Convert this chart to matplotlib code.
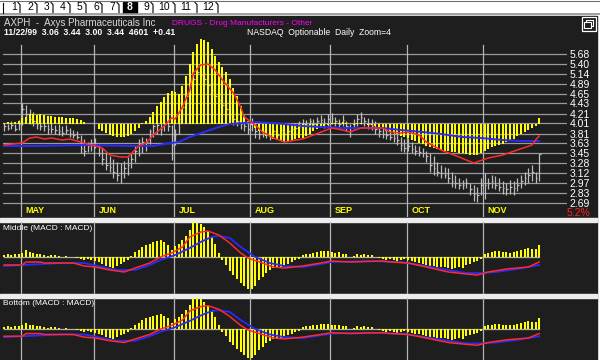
import numpy as np
import matplotlib.pyplot as plt
from matplotlib.patches import Rectangle
from matplotlib.ticker import NullLocator

plt.rcParams['font.family'] = ['Liberation Sans', 'DejaVu Sans']

# ---- data (daily bars, late Apr .. 11/22/99) ----
months = ['MAY', 'JUN', 'JUL', 'AUG', 'SEP', 'OCT', 'NOV']
month_start = [5, 25, 47, 68, 90, 111, 132]
price_ticks = [5.68, 5.40, 5.14, 4.89, 4.65, 4.43, 4.21, 4.01, 3.81, 3.63,
               3.45, 3.28, 3.12, 2.97, 2.83, 2.69]

high = [4.02, 4.00, 4.05, 4.00, 4.08, 4.45, 4.40, 4.30, 4.25, 4.15,
        4.10, 4.05, 4.00, 4.02, 3.98, 4.00, 3.95, 3.98, 3.92, 3.88,
        3.85, 3.78, 3.70, 3.65, 3.70, 3.72, 3.62, 3.55, 3.45, 3.40,
        3.35, 3.30, 3.28, 3.32, 3.38, 3.45, 3.60, 3.70, 3.75, 3.72,
        3.90, 4.00, 4.05, 4.02, 4.08, 4.10, 3.98, 3.90, 4.20, 4.45,
        4.70, 4.95, 5.20, 5.40, 5.35, 5.25, 5.10, 5.00, 4.90, 4.75,
        4.60, 4.50, 4.40, 4.30, 4.25, 4.15, 4.10, 4.05, 4.12, 4.05,
        3.95, 3.92, 3.90, 3.85, 3.92, 3.88, 3.95, 3.90, 3.95, 3.98,
        4.00, 4.05, 4.10, 4.08, 4.12, 4.10, 4.15, 4.18, 4.12, 4.20,
        4.22, 4.15, 4.10, 4.18, 4.05, 4.00, 4.10, 4.20, 4.25, 4.15,
        4.12, 4.10, 4.05, 4.00, 3.95, 3.92, 3.88, 3.85, 3.80, 3.75,
        3.70, 3.72, 3.65, 3.60, 3.58, 3.55, 3.50, 3.45, 3.40, 3.30,
        3.25, 3.22, 3.20, 3.15, 3.10, 3.05, 3.02, 3.05, 2.98, 2.95,
        2.92, 3.05, 3.12, 3.05, 3.10, 3.08, 3.05, 3.00, 2.98, 3.02,
        3.00, 3.05, 3.10, 3.15, 3.20, 3.25, 3.15, 3.44]
low = [3.86, 3.88, 3.90, 3.85, 3.88, 3.98, 4.08, 4.00, 3.95, 3.90,
       3.88, 3.85, 3.80, 3.82, 3.80, 3.78, 3.76, 3.80, 3.74, 3.72,
       3.70, 3.45, 3.40, 3.48, 3.50, 3.55, 3.40, 3.25, 3.18, 3.15,
       3.05, 3.00, 2.98, 3.05, 3.10, 3.20, 3.30, 3.40, 3.45, 3.50,
       3.62, 3.75, 3.80, 3.78, 3.85, 3.85, 3.34, 3.60, 3.80, 4.05,
       4.30, 4.50, 4.70, 4.90, 4.95, 4.85, 4.70, 4.60, 4.45, 4.35,
       4.25, 4.15, 4.05, 3.98, 3.95, 3.90, 3.85, 3.80, 3.85, 3.72,
       3.70, 3.75, 3.72, 3.68, 3.72, 3.70, 3.75, 3.70, 3.72, 3.78,
       3.80, 3.85, 3.90, 3.88, 3.90, 3.92, 3.95, 3.95, 3.92, 3.95,
       4.00, 3.95, 3.90, 3.95, 3.85, 3.75, 3.90, 3.95, 4.00, 3.95,
       3.90, 3.88, 3.80, 3.75, 3.72, 3.70, 3.68, 3.65, 3.60, 3.50,
       3.48, 3.50, 3.45, 3.42, 3.40, 3.38, 3.30, 3.15, 3.10, 3.08,
       3.05, 3.05, 2.98, 2.92, 2.90, 2.88, 2.88, 2.90, 2.80, 2.72,
       2.70, 2.80, 2.75, 2.88, 2.90, 2.88, 2.85, 2.82, 2.80, 2.82,
       2.80, 2.85, 2.90, 2.95, 2.98, 3.00, 2.98, 3.00]
close = [3.95, 3.92, 3.98, 3.90, 4.00, 4.30, 4.20, 4.10, 4.05, 4.00,
         3.95, 3.95, 3.90, 3.90, 3.88, 3.85, 3.82, 3.88, 3.80, 3.78,
         3.75, 3.55, 3.50, 3.58, 3.62, 3.60, 3.45, 3.35, 3.25, 3.22,
         3.15, 3.10, 3.12, 3.20, 3.25, 3.35, 3.50, 3.60, 3.65, 3.65,
         3.85, 3.95, 3.98, 3.90, 4.00, 3.95, 3.60, 3.80, 4.10, 4.35,
         4.60, 4.85, 5.00, 5.20, 5.10, 5.00, 4.85, 4.75, 4.60, 4.50,
         4.40, 4.30, 4.20, 4.10, 4.05, 4.00, 3.95, 3.90, 4.00, 3.85,
         3.80, 3.85, 3.80, 3.75, 3.85, 3.78, 3.88, 3.80, 3.85, 3.90,
         3.92, 3.95, 4.00, 3.98, 4.05, 4.00, 4.05, 4.08, 4.02, 4.10,
         4.12, 4.05, 4.00, 4.08, 3.95, 3.85, 4.00, 4.10, 4.15, 4.05,
         4.00, 3.95, 3.90, 3.85, 3.80, 3.78, 3.75, 3.72, 3.68, 3.60,
         3.55, 3.58, 3.52, 3.50, 3.48, 3.45, 3.40, 3.25, 3.20, 3.15,
         3.12, 3.10, 3.05, 3.00, 2.98, 2.95, 2.95, 2.98, 2.88, 2.82,
         2.80, 2.95, 2.95, 2.98, 3.00, 2.95, 2.92, 2.90, 2.88, 2.92,
         2.90, 2.95, 3.00, 3.05, 3.10, 3.15, 3.05, 3.44]

# price-window MACD overlay (own scale, zero at the 4.01 line)
top_hist = [1, 2, 1, 2, 3, 6, 7, 10, 10, 9, 10, 9,
            8, 8, 7, 7, 7, 6, 6, 6, 5, 4, 2, 0, 0, 0,
            -5, -7, -9, -11, -12, -13, -13, -13, -12, -10, -7, -4,
            1, 3, 7, 12, 18, 22, 27, 31, 33, 32, 30, 38, 48,
            60, 72, 80, 85, 84, 82, 75, 68, 62, 57, 52, 45, 36, 28, 18, 9, 3,
            -1, -4, -7, -9, -12, -13, -15, -16, -17, -18, -17, -16, -15, -14,
            -14, -12, -10, -7, -5, -4, -2, -1,
            1, 1, 1, 2, 1, 0, -1, 1, 1, 0, -1, -1, -2, -3,
            -5, -7, -8, -9, -10, -12, -13, -14, -16, -17, -19, -20, -22, -23,
            -24, -25, -26, -27, -27, -28, -28, -29, -29, -30, -31, -31, -31,
            -29, -27, -25, -23, -22, -21, -20, -18, -17, -15, -12, -10, -8,
            -6, -4, -2, 6]
top_red_x = [0, 5, 7, 9, 11, 13, 16, 18, 21, 24, 27, 29, 32, 34, 37, 39, 41,
             43, 44, 46, 47, 49, 51, 52, 54, 56, 58, 60, 63, 65, 66, 69, 71,
             74, 77, 82, 85, 90, 93, 95, 98, 104, 106, 109, 111, 114, 116,
             120, 125, 129, 133, 137, 141, 145, 146, 147]
top_red = [-21, -19, -14, -13, -15, -14, -16, -15, -18, -21, -24, -31, -33,
           -33, -22, -19, -11, -5, -2, 6, 5, 17, 34, 51, 59, 60, 54, 44, 31,
           17, 7, -1, -8, -14, -18, -15, -11, -4, -6, -8, -4, -4, -8, -9, -8,
           -11, -18, -26, -33, -39, -34, -31, -26, -21, -16, -12]
top_blue_x = [0, 10, 22, 36, 41, 44, 48, 51, 55, 59, 62, 66, 69, 73, 77, 82,
              87, 93, 104, 109, 115, 120, 126, 131, 137, 142, 147]
top_blue = [-22, -22, -21, -22, -22, -20, -18, -13, -8, -3, 0, 1, 2, 1, 0,
            -2, -3, -4, -4, -6, -8, -10, -13, -14, -16, -17, -17]

# MACD panels (middle and bottom show the same study)
macd_hist = [2, 3, 2, 3, 3,
             4, 7, 5, 4, 3, 3, 2, 1, 2, 2, 1, 0, 1, 0, 0,
             -1, -2, -3, -2, -3, -4, -5, -7, -9, -10, -11, -9, -7, -5, -3,
             1, 5, 7, 10, 12, 13, 15, 16, 17, 15, 12, 7,
             11, 13, 17, 21, 27, 35, 34, 33, 30, 26, 20, 13, 4,
             -3, -8, -14, -18, -22, -26, -29, -32, -32, -29, -23, -20, -16,
             -13, -11, -10, -10, -8, -7, -5, -3, -2,
             2, 3, 3, 4, 5, 6, 6, 6, 5, 4, 5, 3, 3, 0, 1, 3, 2, 3, 2, 2,
             0, -1, -2, -3, -2, -3, -4, -3, -2, -3, -4, -5, -6, -7, -8, -9,
             -9, -10, -10, -10, -11, -12, -11, -10, -11, -8, -7, -5, -4, -2,
             3, 4, 5, 6, 6, 5, 5, 4, 5, 6, 7, 8, 9, 8, 8, 12]
macd_red_x = [0, 5, 6, 10, 11, 19, 22, 25, 29, 33, 36, 40, 43, 46, 49, 51,
              54, 56, 59, 62, 65, 67, 71, 74, 77, 82, 87, 90, 95, 104, 106,
              111, 116, 122, 127, 130, 133, 138, 144, 147]
macd_red = [-8, -8, -5, -5, -6, -6, -9, -10, -13, -15, -11, -6, 0, 4, 10, 20,
            25, 26, 22, 14, 4, -1, -6, -10, -11, -9, -6, -4, -5, -4, -5, -6,
            -10, -15, -17, -18, -15, -12, -10, -5]
macd_blue_x = [0, 5, 16, 22, 27, 31, 36, 40, 43, 47, 51, 54, 57, 59, 62, 65,
               69, 73, 77, 82, 87, 90, 100, 109, 116, 122, 127, 131, 135,
               141, 147]
macd_blue = [-9, -8, -6, -6, -10, -13, -13, -8, -3, 2, 9, 15, 20, 21, 19, 10,
             0, -6, -9, -10, -7, -5, -4, -5, -9, -13, -16, -16, -15, -12, -8]

# ---- layout helpers (pixel boxes) ----
W, H = 600, 360
BG = '#1e1e1e'
GRID = '#9a9a9a'
VLINE = '#b4b4b4'
YEL = '#ffff00'
RED = '#ff2a2a'
BLUE = '#2a2aff'
XLIM = (-0.3, -0.3 + 564 / 3.64)


def box(x0, y0, x1, y1):
    return [x0 / W, 1 - y1 / H, (x1 - x0) / W, (y1 - y0) / H]


def ftext(x, y, s, **kw):
    kw.setdefault('va', 'center')
    fig.text(x / W, 1 - y / H, s, **kw)


fig = plt.figure(figsize=(6, 3.6), dpi=100, facecolor='white')

# window chrome
bg = fig.add_axes([0, 0, 1, 1], zorder=-10)
bg.set_xlim(0, W)
bg.set_ylim(H, 0)
bg.axis('off')
bg.add_patch(Rectangle((0, 16), 596.5, 344, color=BG))
bg.plot([0, 600], [1, 1], color='#707070', lw=0.8)
bg.plot([0, 600], [13.5, 13.5], color='#909090', lw=1.2)
for yy in (218, 294):
    bg.add_patch(Rectangle((0, yy), 596.5, 3.5, color='#ececec'))
# tab strip
tab_x = [14, 30, 47, 63, 79, 96, 112, 129, 146, 164, 186, 208]
tab_sep = [20, 37, 53, 70, 86, 102, 119, 137, 153, 175, 197, 218]
bg.plot([3, 3], [3, 12.5], color='black', lw=0.8)
for k, (tx, sx) in enumerate(zip(tab_x, tab_sep)):
    if k == 7:
        bg.add_patch(Rectangle((123, 2), 14, 11, color='black'))
        bg.text(tx + 1, 7.5, str(k + 1), color='white', fontsize=7.5,
                fontweight='bold', ha='center', va='center')
    else:
        bg.text(tx, 7.5, str(k + 1), color='black', fontsize=7.5,
                ha='center', va='center')
    bg.plot([sx - 2, sx, sx], [2.5, 4.5, 12.5], color='black', lw=0.8)
# restore icon
bg.add_patch(Rectangle((582, 17), 14, 14, fill=False, ec='white', lw=0.9))
bg.add_patch(Rectangle((586, 20), 7, 6, fill=False, ec='white', lw=0.8))
bg.add_patch(Rectangle((584, 22), 7, 6, facecolor=BG, ec='white', lw=0.8))

# ---- price window ----
ax = fig.add_axes(box(3, 36, 567, 217))
ax.set_facecolor('none')
ax.set_yscale('log')
ax.set_ylim(2.508, 6.213)
ax.set_xlim(*XLIM)
idx = np.arange(len(close))
for p in price_ticks:
    ax.axhline(p, color=GRID, lw=0.9, zorder=1)
for m in month_start:
    ax.axvline(m - 0.4, ymax=0.95, color=VLINE, lw=0.9, zorder=1)
ax.vlines(idx, low, high, color='#bdbdbd', lw=0.9, zorder=2)
ax.hlines(close, idx, idx + 0.45, color='#bdbdbd', lw=0.9, zorder=2)
for s in ax.spines.values():
    s.set_visible(False)
for m, name in zip(month_start, months):
    ax.text(m + 0.9, 2.595, name, color=YEL, fontsize=6.5, fontweight='bold',
            va='center', ha='left')

ov = ax.twinx()
ov.set_ylim(-93, 88)
ov.set_xlim(*XLIM)
ov.axis('off')
ov.bar(idx, top_hist, width=0.55, color=YEL, zorder=3)
ov.plot(top_blue_x, top_blue, color=BLUE, lw=1.4, zorder=4)
ov.plot(top_red_x, top_red, color=RED, lw=1.1, zorder=5)

# price labels on the right (after twinx, which resets tick sides)
ax.yaxis.set_minor_locator(NullLocator())
ax.set_yticks(price_ticks)
ax.set_yticklabels(['%.2f' % p for p in price_ticks])
ax.tick_params(axis='y', left=False, labelleft=False, right=False,
               labelright=True, length=0, pad=2, labelcolor='white',
               labelsize=7.5)
ax.tick_params(axis='x', bottom=False, labelbottom=False)

# ---- MACD panels ----
def macd_panel(pos, ylim, title, title_y):
    a = fig.add_axes(pos)
    a.set_facecolor('none')
    a.set_xlim(*XLIM)
    a.set_ylim(*ylim)
    a.axis('off')
    for m in month_start:
        a.axvline(m - 0.4, color=VLINE, lw=0.9, zorder=1)
    a.plot([0, len(idx) - 1], [0, 0], color='#b0b0b0', lw=0.9, zorder=2)
    a.bar(idx, macd_hist, width=0.55, color=YEL, zorder=3)
    a.plot(macd_blue_x, macd_blue, color=BLUE, lw=1.3, zorder=4)
    a.plot(macd_red_x, macd_red, color=RED, lw=1.1, zorder=5)
    ftext(3, title_y, title, color='white', fontsize=6)
    return a


macd_panel(box(3, 222, 567, 294), (-37, 35), 'Middle (MACD : MACD)', 228.5)
macd_panel(box(3, 298, 567, 360), (-34.4, 34.5), 'Bottom (MACD : MACD)', 303.5)

# ---- header texts ----
ftext(4, 23.5, 'AXPH  -  Axys Pharmaceuticals Inc', color='#d8d8d8', fontsize=7)
ftext(172, 23.5, 'DRUGS - Drug Manufacturers - Other', color='#ff00ff',
      fontsize=6)
ftext(4, 32.5, '11/22/99  3.06  3.44  3.00  3.44  4601  +0.41', color='white',
      fontsize=6.2, fontweight='bold')
ftext(247, 32.5, 'NASDAQ  Optionable  Daily  Zoom=4', color='white',
      fontsize=6.2)
ftext(590, 213.5, '5.2%', color='#ff2020', fontsize=7.5, ha='right')

fig.savefig('out.png', dpi=100, facecolor=fig.get_facecolor())
